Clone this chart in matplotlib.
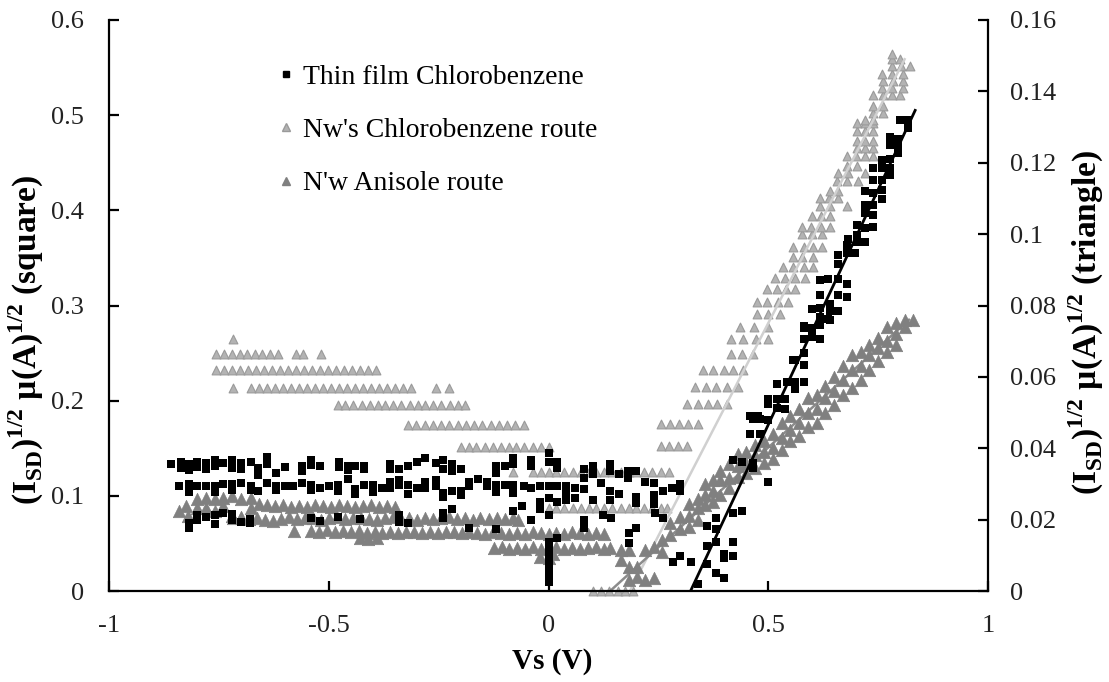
import numpy as np
import matplotlib
matplotlib.use("Agg")
import matplotlib.pyplot as plt
from matplotlib.lines import Line2D
from matplotlib.ticker import FuncFormatter

plt.rcParams['font.family'] = ['Liberation Serif', 'DejaVu Serif']
plt.rcParams['mathtext.fontset'] = 'custom'
plt.rcParams['mathtext.rm'] = 'Liberation Serif'
plt.rcParams['mathtext.bf'] = 'Liberation Serif:bold'
plt.rcParams['axes.unicode_minus'] = False

# ---------- Thin film Chlorobenzene (squares, left axis) ----------
thin_v = [
    # upper band ~0.13
    -0.860, -0.837, -0.837, -0.818, -0.818, -0.800, -0.800, -0.780, -0.780, -0.760, -0.760,
    -0.740, -0.720, -0.720, -0.700, -0.700, -0.677, -0.660, -0.660, -0.640, -0.640, -0.620,
    -0.600, -0.560, -0.560, -0.540, -0.540, -0.520, -0.477, -0.477, -0.457, -0.457, -0.440,
    -0.420, -0.420, -0.360, -0.360, -0.340, -0.320, -0.300, -0.280, -0.257, -0.240, -0.240,
    -0.220, -0.220, -0.200, -0.120, -0.120, -0.100, -0.080, -0.080, -0.040, -0.040, 0.000,
    0.000, 0.020, 0.020, 0.080, 0.080, 0.100, 0.100, 0.140, 0.140, 0.160, 0.180, 0.180,
    0.200, 0.220, 0.240, 0.260, 0.280, 0.300, 0.300,
    # middle band ~0.11
    -0.840, -0.818, -0.818, -0.800, -0.780, -0.760, -0.760, -0.740, -0.720, -0.720, -0.700,
    -0.677, -0.677, -0.660, -0.640, -0.620, -0.620, -0.600, -0.582, -0.560, -0.540, -0.540,
    -0.520, -0.500, -0.480, -0.480, -0.457, -0.440, -0.440, -0.420, -0.400, -0.400, -0.380,
    -0.360, -0.360, -0.340, -0.340, -0.320, -0.320, -0.300, -0.280, -0.280, -0.257, -0.257,
    -0.240, -0.240, -0.220, -0.200, -0.200, -0.180, -0.180, -0.160, -0.140, -0.140, -0.120,
    -0.120, -0.100, -0.080, -0.080, -0.057, -0.040, -0.020, 0.000, 0.020, 0.040, 0.040,
    0.060, 0.060, 0.080, 0.080, 0.100, 0.120, 0.140, 0.140, 0.160, 0.200, 0.200, 0.240, 0.240,
    # lower band and scattered low points
    -0.818, -0.818, -0.800, -0.800, -0.780, -0.760, -0.760, -0.740, -0.720, -0.720, -0.700,
    -0.680, -0.680, -0.540, -0.520, -0.480, -0.430, -0.340, -0.340, -0.320, -0.240, -0.240,
    -0.220, -0.180, -0.120, -0.080, -0.060, -0.040, -0.020, -0.020,
    0.000, 0.000, 0.000, 0.000, 0.000, 0.000, 0.000, 0.000, 0.000,
    0.020, 0.020, 0.040, 0.080, 0.080, 0.123, 0.141, 0.182, 0.182, 0.200,
    0.239, 0.243, 0.261, 0.282, 0.300, 0.323, 0.339, 0.361, 0.361, 0.361,
    0.380, 0.380, 0.380, 0.380, 0.398, 0.398, 0.398, 0.420, 0.420, 0.420, 0.441,
    # rising part
    0.420, 0.440, 0.464, 0.464, 0.500, 0.459, 0.477, 0.459, 0.482, 0.500, 0.520,
    0.464, 0.482, 0.500, 0.500, 0.520, 0.539, 0.539, 0.520, 0.543, 0.561, 0.561, 0.580,
    0.561, 0.580, 0.580, 0.580, 0.580, 0.600, 0.600, 0.618, 0.618, 0.618, 0.641, 0.659, 0.641,
    0.557, 0.580, 0.580, 0.600, 0.618, 0.618, 0.600, 0.636,
    0.618, 0.618, 0.636, 0.659, 0.680, 0.680, 0.659, 0.641,
    0.659, 0.659, 0.680, 0.680, 0.698, 0.682,
    0.702, 0.702, 0.720, 0.720, 0.702,
    0.720, 0.720, 0.739, 0.739, 0.739, 0.739, 0.720,
    0.739, 0.759, 0.759, 0.759,
    0.739, 0.759, 0.777, 0.759, 0.777, 0.777,
    0.777, 0.795, 0.795, 0.777, 0.795,
    0.800, 0.818, 0.818,
]
thin_i = [
    0.133, 0.129, 0.136, 0.133, 0.127, 0.136, 0.130, 0.134, 0.128, 0.138, 0.131,
    0.135, 0.138, 0.129, 0.134, 0.128, 0.136, 0.129, 0.122, 0.141, 0.133, 0.124,
    0.130, 0.131, 0.126, 0.138, 0.132, 0.131, 0.136, 0.130, 0.131, 0.127, 0.131,
    0.131, 0.128, 0.128, 0.133, 0.128, 0.131, 0.136, 0.140, 0.134, 0.138, 0.128,
    0.133, 0.126, 0.128, 0.131, 0.124, 0.131, 0.140, 0.133, 0.138, 0.131, 0.145,
    0.136, 0.136, 0.129, 0.128, 0.119, 0.131, 0.123, 0.133, 0.126, 0.123, 0.126, 0.119,
    0.126, 0.115, 0.113, 0.105, 0.108, 0.112, 0.105,
    0.110, 0.112, 0.104, 0.110, 0.110, 0.110, 0.104, 0.112, 0.112, 0.106, 0.113,
    0.110, 0.106, 0.105, 0.113, 0.110, 0.106, 0.110, 0.110, 0.113, 0.111, 0.106,
    0.108, 0.110, 0.111, 0.105, 0.118, 0.107, 0.102, 0.111, 0.111, 0.104, 0.108,
    0.115, 0.108, 0.117, 0.111, 0.111, 0.102, 0.108, 0.115, 0.108, 0.117, 0.110,
    0.103, 0.099, 0.105, 0.105, 0.101, 0.115, 0.110, 0.118, 0.115, 0.110, 0.111,
    0.104, 0.111, 0.111, 0.103, 0.110, 0.108, 0.110, 0.110, 0.110, 0.110, 0.102,
    0.108, 0.098, 0.107, 0.119, 0.096, 0.113, 0.105, 0.096, 0.102, 0.099, 0.092, 0.101, 0.094,
    0.071, 0.066, 0.075, 0.080, 0.078, 0.070, 0.080, 0.082, 0.075, 0.081, 0.072,
    0.071, 0.076, 0.077, 0.074, 0.078, 0.076, 0.080, 0.073, 0.071, 0.082, 0.077,
    0.086, 0.066, 0.065, 0.084, 0.089, 0.075, 0.086, 0.094,
    0.098, 0.080, 0.052, 0.045, 0.039, 0.031, 0.024, 0.018, 0.010,
    0.094, 0.056, 0.096, 0.075, 0.066, 0.080, 0.077, 0.061, 0.050, 0.066,
    0.091, 0.082, 0.077, 0.031, 0.037, 0.031, 0.007, 0.068, 0.047, 0.028,
    0.077, 0.065, 0.052, 0.019, 0.039, 0.035, 0.014, 0.082, 0.052, 0.037, 0.084,
    0.138, 0.136, 0.134, 0.129, 0.115, 0.184, 0.184, 0.165, 0.165, 0.196, 0.192,
    0.181, 0.181, 0.180, 0.202, 0.202, 0.191, 0.202, 0.217, 0.220, 0.220, 0.212, 0.220,
    0.243, 0.238, 0.250, 0.265, 0.276, 0.276, 0.267, 0.265, 0.297, 0.288, 0.294, 0.294, 0.302,
    0.243, 0.238, 0.278, 0.275, 0.280, 0.265, 0.296, 0.286,
    0.327, 0.311, 0.328, 0.328, 0.323, 0.309, 0.311, 0.285,
    0.353, 0.344, 0.364, 0.355, 0.355, 0.370,
    0.385, 0.374, 0.381, 0.367, 0.367,
    0.406, 0.397, 0.406, 0.395, 0.383, 0.418, 0.420,
    0.432, 0.432, 0.421, 0.412,
    0.444, 0.444, 0.444, 0.453, 0.454, 0.437,
    0.477, 0.475, 0.467, 0.469, 0.460,
    0.495, 0.495, 0.486,
]
thin_fit_v = [0.323, 0.834]
thin_fit_i = [0.000, 0.505]

# ---------- Nw's Chlorobenzene route (light triangles, right axis) ----------
nw_v = [
    -0.718,
    -0.757, -0.739, -0.721, -0.703, -0.686, -0.668, -0.651, -0.633, -0.616, -0.575, -0.558, -0.518,
    -0.757, -0.739, -0.721, -0.703, -0.684, -0.666, -0.648, -0.630, -0.612, -0.593, -0.575,
    -0.557, -0.539, -0.521, -0.502, -0.484, -0.466, -0.448, -0.430, -0.411, -0.393,
    -0.718, -0.677, -0.659, -0.641, -0.622, -0.604, -0.586, -0.568, -0.550, -0.531, -0.513,
    -0.495, -0.477, -0.459, -0.440, -0.422, -0.404, -0.386, -0.368, -0.350, -0.332, -0.314,
    -0.257, -0.227,
    -0.480, -0.462, -0.444, -0.425, -0.407, -0.389, -0.371, -0.353, -0.335, -0.316, -0.298,
    -0.280, -0.262, -0.244, -0.225, -0.207, -0.190,
    -0.320, -0.301, -0.282, -0.264, -0.245, -0.226, -0.207, -0.188, -0.170, -0.151, -0.132,
    -0.113, -0.095, -0.076, -0.057,
    -0.200, -0.182, -0.164, -0.145, -0.127, -0.109, -0.091, -0.073, -0.055, -0.036, -0.018, 0.000,
    -0.080, -0.036, -0.018, 0.000, 0.018, 0.036, 0.055, 0.073, 0.091, 0.109, 0.127, 0.145,
    0.164, 0.182, 0.200, 0.218, 0.236, 0.255, 0.273,
    0.000, 0.018, 0.036, 0.055, 0.073, 0.091, 0.109, 0.127, 0.145, 0.164, 0.182, 0.200,
    0.218, 0.236, 0.255, 0.270,
    0.102, 0.120, 0.138, 0.157, 0.175, 0.193,
    0.255, 0.275, 0.295, 0.315,
    0.255, 0.276, 0.297, 0.318, 0.339,
    0.316, 0.339, 0.362, 0.384, 0.407,
    0.334, 0.358, 0.382, 0.406, 0.430,
    0.352, 0.375, 0.398, 0.420, 0.443,
    0.414, 0.439, 0.464,
    0.414, 0.443, 0.471, 0.500,
    0.436, 0.468, 0.500,
    0.475, 0.500, 0.527,
    0.475, 0.498, 0.521, 0.545,
    0.498, 0.519, 0.540, 0.561,
    0.516, 0.539, 0.561, 0.584,
    0.534, 0.557, 0.580, 0.602,
    0.557, 0.577, 0.602,
    0.557, 0.580, 0.602, 0.623,
    0.577, 0.600, 0.623,
    0.577, 0.598, 0.620, 0.641,
    0.600, 0.620, 0.641,
    0.618, 0.641, 0.680,
    0.618, 0.639, 0.659,
    0.641, 0.659,
    0.657, 0.680, 0.705,
    0.659, 0.682, 0.720,
    0.680, 0.702,
    0.680, 0.700, 0.720, 0.739,
    0.702, 0.720, 0.739,
    0.702, 0.720, 0.739,
    0.702, 0.720, 0.739,
    0.702, 0.720, 0.739,
    0.720, 0.739,
    0.739, 0.761,
    0.739, 0.761,
    0.739, 0.761, 0.782, 0.800,
    0.759, 0.782, 0.807,
    0.761, 0.784, 0.807,
    0.759, 0.782, 0.807,
    0.782, 0.802, 0.823,
    0.782, 0.800,
    0.782,
]
nw_i = (
    [0.0705] + [0.0663] * 12 + [0.0618] * 21 + [0.0568] * 24 + [0.0520] * 17
    + [0.0464] * 15 + [0.0403] * 12 + [0.0333] * 19 + [0.0232] * 16 + [0.0000] * 6
    + [0.0406] * 4 + [0.0467] * 5 + [0.0523] * 5 + [0.0573] * 5 + [0.0620] * 5
    + [0.0663] * 3 + [0.0705] * 4 + [0.0741] * 3 + [0.0775] * 3 + [0.0811] * 4
    + [0.0845] * 4 + [0.0876] * 4 + [0.0909] * 4 + [0.0937] * 3 + [0.0965] * 4
    + [0.0999] * 3 + [0.1020] * 4 + [0.1050] * 3 + [0.1080] * 3 + [0.1100] * 3
    + [0.1120] * 2 + [0.1150] * 3 + [0.1170] * 3 + [0.1190] * 2 + [0.1220] * 4
    + [0.1240] * 3 + [0.1260] * 3 + [0.1290] * 3 + [0.1310] * 3 + [0.1320] * 2
    + [0.1340] * 2 + [0.1360] * 2 + [0.1390] * 4 + [0.1410] * 3 + [0.1430] * 3
    + [0.1450] * 3 + [0.1470] * 3 + [0.1490] * 2 + [0.1505]
)
nw_fit_v = [0.185, 0.810]
nw_fit_i = [0.000, 0.149]

# ---------- N'w Anisole route (dark triangles, right axis) ----------
an_v = [
    -0.840, -0.825, -0.820, -0.800, -0.800, -0.780, -0.780, -0.760, -0.760, -0.740, -0.740,
    -0.720, -0.720, -0.700, -0.700, -0.677, -0.677,
    -0.659, -0.641, -0.622, -0.604, -0.586, -0.568, -0.550, -0.531, -0.513, -0.495, -0.477,
    -0.459, -0.440, -0.422, -0.404, -0.386, -0.368, -0.350,
    -0.718, -0.700, -0.682, -0.664, -0.645, -0.627, -0.609, -0.591, -0.573, -0.555, -0.536,
    -0.518, -0.500, -0.482, -0.464, -0.445, -0.427, -0.409, -0.391, -0.373, -0.355, -0.336,
    -0.318, -0.300, -0.282, -0.264, -0.245, -0.227, -0.209, -0.191, -0.173, -0.155, -0.136,
    -0.118, -0.100, -0.082, -0.070,
    -0.580, -0.540, -0.522, -0.504, -0.486, -0.468, -0.450, -0.432, -0.414, -0.396, -0.378,
    -0.360, -0.342, -0.324, -0.306, -0.288, -0.270, -0.252, -0.234, -0.216, -0.198, -0.180,
    -0.162, -0.144, -0.126, -0.108, -0.090, -0.072, -0.054, -0.036, -0.018, 0.000, 0.018,
    0.036, 0.054, 0.072, 0.090, 0.108, 0.125,
    -0.430, -0.410, -0.390,
    -0.125, -0.107, -0.089, -0.071, -0.053, -0.035, -0.017, 0.000, 0.018, 0.036, 0.054,
    0.072, 0.090, 0.108, 0.126, 0.140,
    -0.020, 0.000, 0.010,
    0.164, 0.164, 0.182, 0.182, 0.182, 0.202, 0.202, 0.220, 0.220, 0.239, 0.239,
    0.259, 0.259, 0.277, 0.277, 0.300, 0.300,
    0.320, 0.320, 0.320, 0.340, 0.340, 0.340, 0.355, 0.355, 0.355, 0.375, 0.375, 0.375,
    0.390, 0.390, 0.390, 0.410, 0.410, 0.410, 0.430, 0.430, 0.430, 0.450, 0.450, 0.450,
    0.470, 0.470, 0.470, 0.490, 0.490, 0.490, 0.510, 0.510, 0.510, 0.530, 0.530, 0.530,
    0.550, 0.550, 0.550, 0.570, 0.570, 0.570, 0.590, 0.590, 0.590, 0.610, 0.610, 0.610,
    0.630, 0.630, 0.630, 0.650, 0.650, 0.650, 0.670, 0.670, 0.670, 0.690, 0.690, 0.690,
    0.710, 0.710, 0.710, 0.730, 0.730, 0.730, 0.750, 0.750, 0.750, 0.770, 0.770, 0.770,
    0.790, 0.790, 0.790, 0.810, 0.810, 0.830,
]
an_i = [
    0.0225, 0.0238, 0.0210, 0.0257, 0.0232, 0.0260, 0.0232, 0.0257, 0.0224, 0.0260, 0.0238,
    0.0266, 0.0210, 0.0257, 0.0204, 0.0260, 0.0232,
    0.0245, 0.0240, 0.0238, 0.0242, 0.0236, 0.0238, 0.0235, 0.0240, 0.0238, 0.0236, 0.0240,
    0.0238, 0.0236, 0.0238, 0.0240, 0.0236, 0.0238, 0.0235,
    0.0204, 0.0207, 0.0202, 0.0205, 0.0200, 0.0196, 0.0203, 0.0206, 0.0202, 0.0205, 0.0204,
    0.0200, 0.0204, 0.0207, 0.0202, 0.0204, 0.0205, 0.0203, 0.0200, 0.0204, 0.0206, 0.0202,
    0.0204, 0.0200, 0.0205, 0.0203, 0.0204, 0.0206, 0.0202, 0.0204, 0.0200, 0.0205, 0.0203,
    0.0204, 0.0202, 0.0205, 0.0200,
    0.0168, 0.0168, 0.0165, 0.0170, 0.0166, 0.0168, 0.0164, 0.0167, 0.0163, 0.0166, 0.0162,
    0.0165, 0.0163, 0.0166, 0.0164, 0.0162, 0.0165, 0.0163, 0.0166, 0.0164, 0.0162, 0.0165,
    0.0163, 0.0161, 0.0164, 0.0162, 0.0160, 0.0163, 0.0161, 0.0164, 0.0162, 0.0160, 0.0163,
    0.0161, 0.0164, 0.0162, 0.0160, 0.0163, 0.0161,
    0.0148, 0.0145, 0.0148,
    0.0120, 0.0122, 0.0118, 0.0121, 0.0119, 0.0122, 0.0118, 0.0120, 0.0122, 0.0119, 0.0121,
    0.0118, 0.0120, 0.0122, 0.0119, 0.0121,
    0.0095, 0.0092, 0.0105,
    0.0115, 0.0087, 0.0115, 0.0067, 0.0031, 0.0067, 0.0039, 0.0115, 0.0031, 0.0123, 0.0036,
    0.0143, 0.0110, 0.0190, 0.0157, 0.0207, 0.0175,
    0.0243, 0.0210, 0.0180, 0.0257, 0.0232, 0.0200, 0.0300, 0.0270, 0.0240, 0.0310, 0.0280, 0.0250,
    0.0336, 0.0310, 0.0270, 0.0355, 0.0316, 0.0290, 0.0383, 0.0350, 0.0320, 0.0390, 0.0360, 0.0330,
    0.0410, 0.0380, 0.0345, 0.0420, 0.0390, 0.0360, 0.0440, 0.0400, 0.0370, 0.0470, 0.0430, 0.0395,
    0.0490, 0.0450, 0.0420, 0.0510, 0.0470, 0.0435, 0.0540, 0.0500, 0.0460, 0.0550, 0.0510, 0.0470,
    0.0575, 0.0540, 0.0500, 0.0600, 0.0560, 0.0520, 0.0630, 0.0590, 0.0550, 0.0660, 0.0620, 0.0570,
    0.0670, 0.0630, 0.0590, 0.0690, 0.0660, 0.0620, 0.0710, 0.0680, 0.0645, 0.0740, 0.0700, 0.0670,
    0.0750, 0.0720, 0.0690, 0.0760, 0.0740, 0.0760,
]
an_fit_v = [0.140, 0.820]
an_fit_i = [0.000, 0.076]

labels = ["Thin film Chlorobenzene", "Nw's Chlorobenzene route", "N'w Anisole route"]

light_fc = '#b3b3b3'
light_ec = '#9a9a9a'
dark_c = '#808080'

fig = plt.figure(figsize=(11.09, 6.82), dpi=100)
ax = fig.add_axes([0.0983, 0.1334, 0.7927, 0.8373])
ax2 = ax.twinx()
ax.set_zorder(ax2.get_zorder() + 1)
ax.patch.set_visible(False)

# triangles on the secondary axis
ax2.scatter(nw_v, nw_i, marker='^', s=40, facecolor=light_fc, edgecolor=light_ec,
            linewidth=0.8, zorder=1, clip_on=False)
ax2.plot(nw_fit_v, nw_fit_i, color='#d0d0d0', lw=1.8, zorder=2)
ax2.plot(an_fit_v, an_fit_i, color='#8c8c8c', lw=1.8, zorder=2)
ax2.scatter(an_v, an_i, marker='^', s=80, facecolor=dark_c, edgecolor=dark_c,
            linewidth=0.5, zorder=3, clip_on=False)

# squares on the primary axis
ax.scatter(thin_v, thin_i, marker='s', s=26, color='black', linewidth=0, zorder=3, clip_on=False)
ax.plot(thin_fit_v, thin_fit_i, color='black', lw=2, zorder=4)

ax.set_xlim(-1, 1)
ax.set_ylim(0, 0.6)
ax2.set_ylim(0, 0.16)
ax.set_xticks([-1, -0.5, 0, 0.5, 1])
ax.set_yticks(np.arange(0, 0.61, 0.1))
ax2.set_yticks(np.arange(0, 0.161, 0.02))
fmt = FuncFormatter(lambda v, p: '%g' % round(v, 3))
ax.xaxis.set_major_formatter(fmt)
ax.yaxis.set_major_formatter(fmt)
ax2.yaxis.set_major_formatter(fmt)

for a in (ax, ax2):
    a.spines['top'].set_visible(False)
    for s in ('left', 'right', 'bottom'):
        a.spines[s].set_linewidth(1.6)
ax.spines['right'].set_visible(False)
ax2.spines['left'].set_visible(False)
ax2.spines['bottom'].set_visible(False)

ax.tick_params(axis='x', direction='in', length=7, width=1.6, labelsize=19, pad=17,
               labelcolor='#222222')
ax.tick_params(axis='y', direction='in', length=7, width=1.6, labelsize=19, pad=18,
               labelcolor='#222222')
ax2.tick_params(axis='y', direction='in', length=7, width=1.6, labelsize=19, pad=16,
                labelcolor='#222222')

ax.set_xlabel('Vs (V)', fontsize=21, fontweight='bold')
ax.xaxis.set_label_coords(0.504, -0.1)
ax.set_ylabel(r'(I$_\mathdefault{SD}$)$^\mathdefault{1/2}$ µ(A)$^\mathdefault{1/2}$ (square)',
              fontsize=24, fontweight='bold')
ax.yaxis.set_label_coords(-0.072, 0.44)
ax2.set_ylabel(r'(I$_\mathdefault{SD}$)$^\mathdefault{1/2}$ µ(A)$^\mathdefault{1/2}$ (triangle)',
               fontsize=24, fontweight='bold')
ax2.yaxis.set_label_coords(1.09, 0.47)

handles = [
    Line2D([], [], ls='none', marker='s', ms=5, color='black'),
    Line2D([], [], ls='none', marker='^', ms=6, mfc=light_fc, mec=light_ec),
    Line2D([], [], ls='none', marker='^', ms=6, mfc=dark_c, mec=dark_c),
]
leg = ax.legend(handles, labels, loc='upper left', bbox_to_anchor=(0.192, 0.922),
                frameon=False, fontsize=20, handlelength=0.6, handletextpad=0.3,
                labelspacing=1.0, borderpad=0, borderaxespad=0)

fig.savefig('out.png', dpi=100)
